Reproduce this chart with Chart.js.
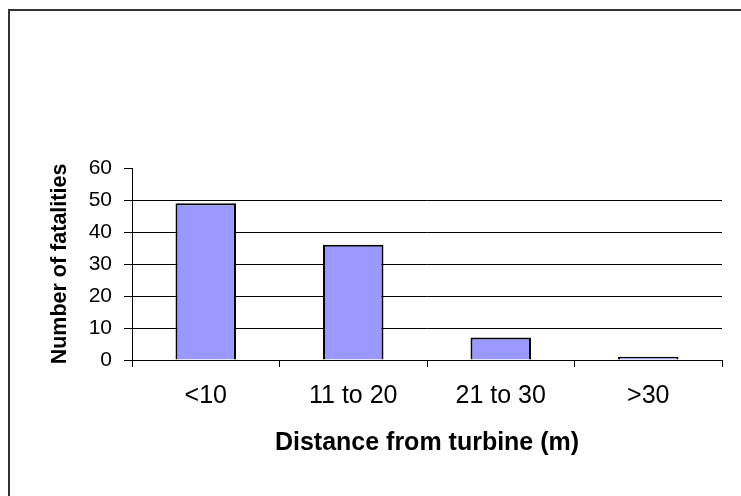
<!DOCTYPE html>
<html>
<head>
<meta charset="utf-8">
<script src="https://cdn.jsdelivr.net/npm/chart.js@4/dist/chart.umd.min.js"></script>
<style>
  html, body { margin: 0; padding: 0; background: #fff; }
  #wrap { width: 741px; height: 496px; position: relative; }
</style>
</head>
<body>
<div id="wrap"><canvas id="chart" width="741" height="496"></canvas></div>
<script>
const categories = ["<10", "11 to 20", "21 to 30", ">30"];
const fatalities = [49, 36, 7, 1];
const yTicks = [0, 10, 20, 30, 40, 50, 60];

const FONT = "'Liberation Sans', Arial, sans-serif";

// the thin frame round the chart (only top and left show in the picture)
const framePlugin = {
  id: "frame",
  beforeDraw(chart) {
    const ctx = chart.ctx;
    ctx.save();
    ctx.fillStyle = "#fff";
    ctx.fillRect(0, 0, chart.width, chart.height);
    ctx.strokeStyle = "#333";
    ctx.lineWidth = 2;
    ctx.beginPath();
    ctx.moveTo(9, chart.height);
    ctx.lineTo(9, 10);
    ctx.lineTo(chart.width, 10);
    ctx.stroke();
    ctx.restore();
  },
};

new Chart(document.getElementById("chart"), {
  type: "bar",
  data: {
    labels: categories,
    datasets: [{
      label: "Number of fatalities",
      data: fatalities,
      backgroundColor: "#9999FF",
      borderColor: "#000",
      borderWidth: 2,
      categoryPercentage: 1,
      barPercentage: 0.41,
    }],
  },
  options: {
    responsive: false,
    animation: false,
    layout: {
      padding: { left: 43, top: 168, right: 19, bottom: 0 },
    },
    plugins: {
      legend: { display: false },
      tooltip: { enabled: false },
    },
    scales: {
      x: {
        afterFit(scale) { scale.height = 136; },
        grid: {
          offset: true,
          drawOnChartArea: false,
          drawTicks: true,
          tickLength: 7,
          color: "#000",
        },
        border: { color: "#000", width: 1 },
        ticks: {
          color: "#000",
          padding: 14,
          font: { family: FONT, size: 25 },
          maxRotation: 0,
        },
        title: {
          display: true,
          text: "Distance from turbine (m)",
          color: "#000",
          font: { family: FONT, size: 25, weight: "bold" },
          padding: { top: 4, bottom: 38 },
        },
      },
      y: {
        afterFit(scale) { scale.width = 89; },
        min: 0,
        max: 60,
        afterBuildTicks(scale) {
          scale.ticks = yTicks.map((v) => ({ value: v }));
        },
        grid: {
          drawTicks: true,
          tickLength: 8,
          color: (c) => (c.tick && c.tick.value === 60 ? "rgba(0,0,0,0)" : "#000"),
          tickColor: "#000",
        },
        border: { color: "#000", width: 1 },
        ticks: {
          color: "#000",
          padding: 12,
          font: { family: FONT, size: 21 },
        },
        title: {
          display: true,
          text: "Number of fatalities",
          color: "#000",
          font: { family: FONT, size: 21.5, weight: "bold" },
          padding: { top: 4, bottom: 4 },
        },
      },
    },
  },
  plugins: [framePlugin],
});
</script>
</body>
</html>
